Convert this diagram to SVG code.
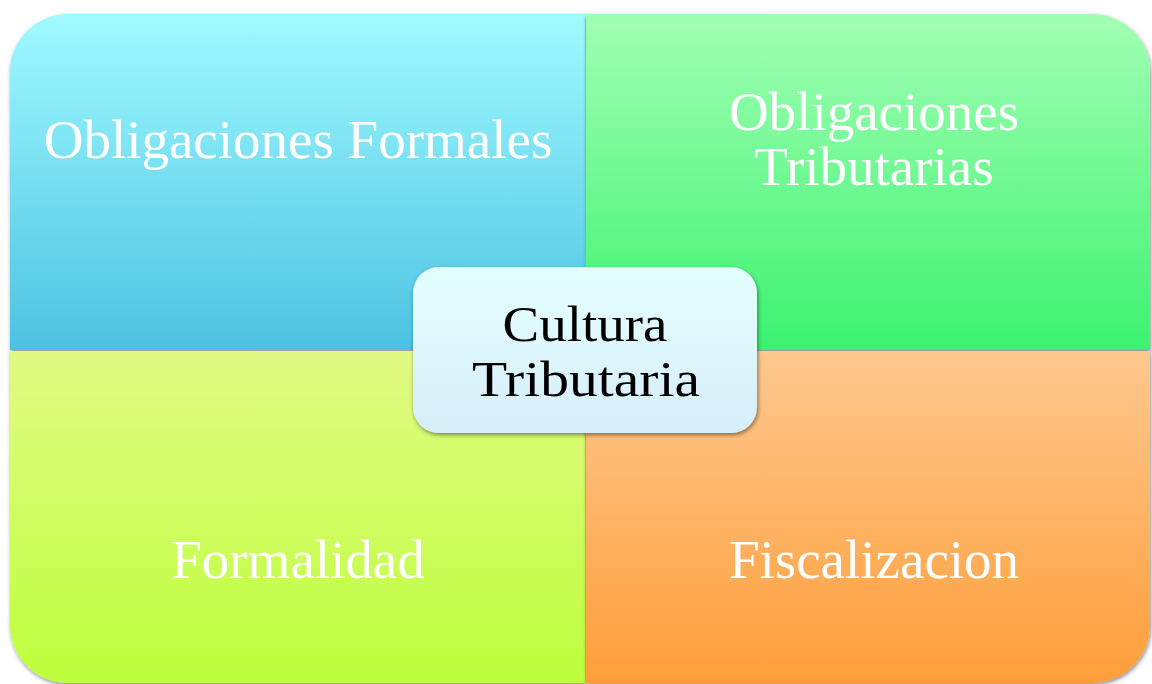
<svg xmlns="http://www.w3.org/2000/svg" width="1152" height="684" viewBox="0 0 1152 684">
<defs>
<linearGradient id="gTL" x1="0" y1="0" x2="0" y2="1"><stop offset="0" stop-color="#a0faff"/><stop offset="1" stop-color="#4cc2e2"/></linearGradient>
<linearGradient id="gTR" x1="0" y1="0" x2="0" y2="1"><stop offset="0" stop-color="#a2ffb4"/><stop offset="1" stop-color="#3cf270"/></linearGradient>
<linearGradient id="gBL" x1="0" y1="0" x2="0" y2="1"><stop offset="0" stop-color="#e2fa84"/><stop offset="1" stop-color="#bdff3c"/></linearGradient>
<linearGradient id="gBR" x1="0" y1="0" x2="0" y2="1"><stop offset="0" stop-color="#fdc88e"/><stop offset="1" stop-color="#ff9e3a"/></linearGradient>
<linearGradient id="gC" x1="0" y1="0" x2="0" y2="1"><stop offset="0" stop-color="#e4ffff"/><stop offset="1" stop-color="#d6eef8"/></linearGradient>
<filter id="sh" x="-10%" y="-10%" width="120%" height="120%"><feDropShadow dx="1" dy="2" stdDeviation="2" flood-color="#000" flood-opacity="0.45"/></filter>
</defs>
<style>
.q{filter:url(#sh)}
.qt{font-family:"Liberation Serif",serif;font-size:55px;fill:#ffffff;text-anchor:middle}
.ct{font-family:"Liberation Serif",serif;font-size:51px;fill:#000000;text-anchor:middle}
</style>
<g id="tl" class="q"><path d="M10,72 A58,58 0 0 1 68,14 H585 V350 H10 Z" fill="url(#gTL)"/><text class="qt" x="298" y="158">Obligaciones Formales</text></g>
<g id="tr" class="q"><path d="M586,14 H1092 A58,58 0 0 1 1150,72 V350 H586 Z" fill="url(#gTR)"/><text class="qt" x="874" y="130">Obligaciones</text><text class="qt" x="874" y="185">Tributarias</text></g>
<g id="bl" class="q"><path d="M10,351 H585 V683 H68 A58,58 0 0 1 10,625 Z" fill="url(#gBL)"/><text class="qt" x="298" y="578">Formalidad</text></g>
<g id="br" class="q"><path d="M586,351 H1150 V625 A58,58 0 0 1 1092,683 H586 Z" fill="url(#gBR)"/><text class="qt" x="874" y="578">Fiscalizacion</text></g>
<g id="connectors"></g>
<g id="center" class="q"><rect x="413" y="267" width="344" height="166" rx="26" fill="url(#gC)"/><text class="ct" x="585" y="341" textLength="165" lengthAdjust="spacingAndGlyphs">Cultura</text><text class="ct" x="586" y="396" textLength="228" lengthAdjust="spacingAndGlyphs">Tributaria</text></g>
</svg>
